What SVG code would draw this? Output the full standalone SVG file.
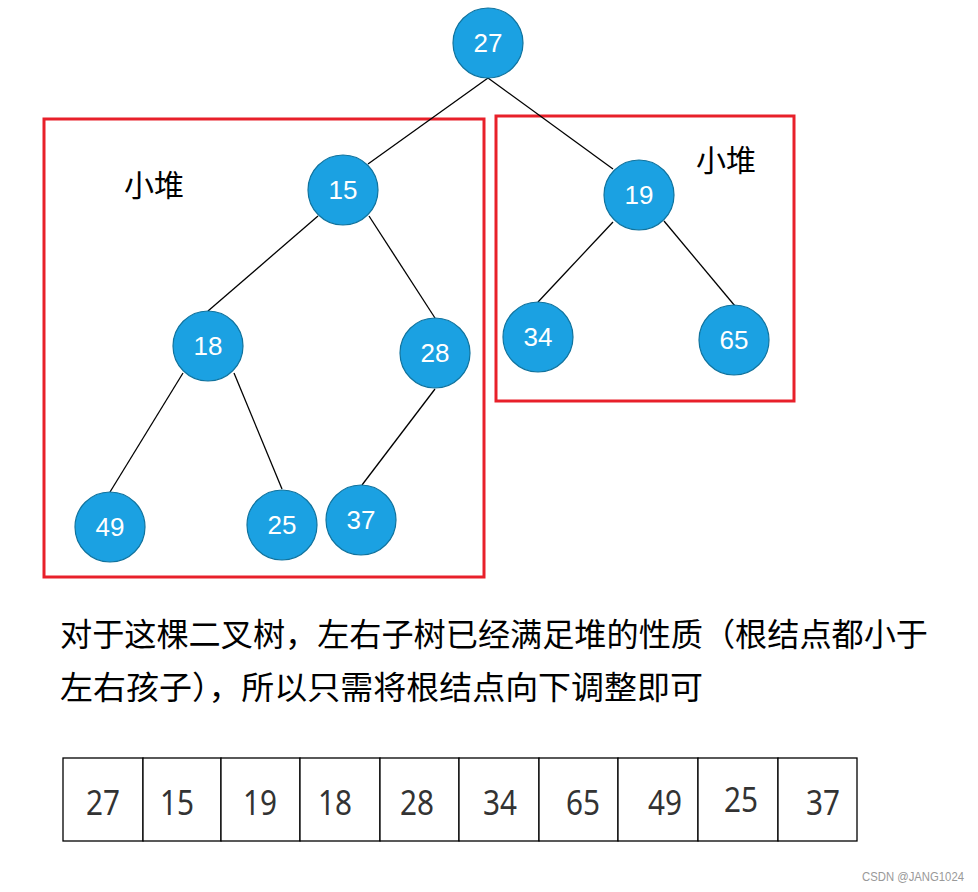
<svg xmlns="http://www.w3.org/2000/svg" width="978" height="892" viewBox="0 0 978 892">
<style>
.node circle{fill:#1ba1e2;stroke:#10739e;stroke-width:1.2}
.node text{fill:#fff;font-family:"Liberation Sans",Arial,sans-serif;font-size:26px;text-anchor:middle}
.edge line{stroke:#000;stroke-width:1.3}
.box{fill:none;stroke:#e8202a;stroke-width:3}
.lbl{font-family:"Noto Sans CJK SC",sans-serif;font-size:30px;fill:#000}
.para{font-family:"Noto Sans CJK SC",sans-serif;font-size:32px;fill:#000}
.cell{fill:#fff;stroke:#000;stroke-width:1.3}
.num{font-family:"Noto Sans","Noto Sans CJK SC",sans-serif;font-size:35px;fill:#333;text-anchor:middle}
</style>
<rect width="978" height="892" fill="#fff"/>
<rect class="box" x="44" y="119" width="440" height="458"/>
<rect class="box" x="496" y="116" width="298" height="285"/>
<text class="lbl" x="124" y="196">小堆</text>
<text class="lbl" x="696" y="171">小堆</text>
<g id="connectors" class="edge">
<line x1="488" y1="78" x2="368" y2="164"/>
<line x1="488" y1="78" x2="613" y2="169"/>
<line x1="318" y1="216" x2="208" y2="311"/>
<line x1="369" y1="216" x2="435" y2="318"/>
<line x1="183" y1="373" x2="110" y2="492"/>
<line x1="234" y1="373" x2="282" y2="489"/>
<line x1="435" y1="389" x2="362" y2="485"/>
<line x1="613" y1="222" x2="538" y2="302"/>
<line x1="664" y1="221" x2="735" y2="306"/>
</g>
<g id="n27" class="node"><circle cx="488" cy="43" r="35"/><text x="488" y="52">27</text></g>
<g id="n15" class="node"><circle cx="343" cy="190" r="35"/><text x="343" y="199">15</text></g>
<g id="n19" class="node"><circle cx="639" cy="195" r="35"/><text x="639" y="204">19</text></g>
<g id="n18" class="node"><circle cx="208" cy="346" r="35"/><text x="208" y="355">18</text></g>
<g id="n28" class="node"><circle cx="435" cy="353" r="35"/><text x="435" y="362">28</text></g>
<g id="n34" class="node"><circle cx="538" cy="337" r="35"/><text x="538" y="346">34</text></g>
<g id="n65" class="node"><circle cx="734" cy="340" r="35"/><text x="734" y="349">65</text></g>
<g id="n49" class="node"><circle cx="110" cy="527" r="35"/><text x="110" y="536">49</text></g>
<g id="n25" class="node"><circle cx="282" cy="525" r="35"/><text x="282" y="534">25</text></g>
<g id="n37" class="node"><circle cx="361" cy="520" r="35"/><text x="361" y="529">37</text></g>
<text class="para" x="60" y="646" textLength="868" lengthAdjust="spacingAndGlyphs">对于这棵二叉树，左右子树已经满足堆的性质（根结点都小于</text>
<text class="para" x="60" y="699" textLength="643" lengthAdjust="spacingAndGlyphs">左右孩子），所以只需将根结点向下调整即可</text>
<g id="array">
<rect class="cell" x="63" y="758" width="80" height="83"/>
<rect class="cell" x="143" y="758" width="78" height="83"/>
<rect class="cell" x="221" y="758" width="79" height="83"/>
<rect class="cell" x="300" y="758" width="80" height="83"/>
<rect class="cell" x="380" y="758" width="79" height="83"/>
<rect class="cell" x="459" y="758" width="80" height="83"/>
<rect class="cell" x="539" y="758" width="79" height="83"/>
<rect class="cell" x="618" y="758" width="80" height="83"/>
<rect class="cell" x="698" y="758" width="80" height="83"/>
<rect class="cell" x="778" y="758" width="79" height="83"/>
<text class="num" x="103" y="815" textLength="34" lengthAdjust="spacingAndGlyphs">27</text>
<text class="num" x="177" y="815" textLength="34" lengthAdjust="spacingAndGlyphs">15</text>
<text class="num" x="260" y="815" textLength="34" lengthAdjust="spacingAndGlyphs">19</text>
<text class="num" x="335" y="815" textLength="34" lengthAdjust="spacingAndGlyphs">18</text>
<text class="num" x="417" y="815" textLength="34" lengthAdjust="spacingAndGlyphs">28</text>
<text class="num" x="500" y="815" textLength="34" lengthAdjust="spacingAndGlyphs">34</text>
<text class="num" x="583" y="815" textLength="34" lengthAdjust="spacingAndGlyphs">65</text>
<text class="num" x="665" y="815" textLength="34" lengthAdjust="spacingAndGlyphs">49</text>
<text class="num" x="741" y="812" textLength="34" lengthAdjust="spacingAndGlyphs">25</text>
<text class="num" x="823" y="815" textLength="34" lengthAdjust="spacingAndGlyphs">37</text>
</g>
<text x="862" y="881" font-family="'Liberation Sans',Arial,sans-serif" font-size="13" fill="#999" textLength="102" lengthAdjust="spacingAndGlyphs">CSDN @JANG1024</text>
</svg>
